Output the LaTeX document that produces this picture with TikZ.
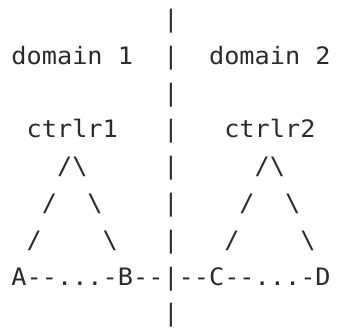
\documentclass[tikz,border=0pt]{standalone}
\usepackage{fontspec}
\newfontfamily\artfont[FakeStretch=1.052]{DejaVu Sans Mono}
\definecolor{ink}{HTML}{2B2B2B}
\tikzset{
  art/.style={anchor=base west,inner sep=0pt,outer sep=0pt,text=ink,
    font=\artfont\fontsize{24pt}{24pt}\selectfont}
}
\begin{document}
\begin{tikzpicture}
    \useasboundingbox (0,0) rectangle (341pt,-331pt);
    \begin{scope}[shift={(11.5pt,9.3pt)},x=15.2pt,y=-36.8pt]
        % divider
        \node[art] (bar1) at (10,1) {|};
        \node[art] (bar2) at (10,2) {|};
        \node[art] (bar3) at (10,3) {|};
        \node[art] (bar4) at (10,4) {|};
        \node[art] (bar5) at (10,5) {|};
        \node[art] (bar6) at (10,6) {|};
        \node[art] (bar7) at (10,7) {|};
        \node[art] (bar9) at (10,9) {|};
        % domains
        \node[art] (dom1) at (0,2) {domain 1};
        \node[art] (dom2) at (13,2) {domain 2};
        \node[art] (ctrl1) at (1,4) {ctrlr1};
        \node[art] (ctrl2) at (14,4) {ctrlr2};
        % left tree
        \node[art] (topL) at (3,5) {/\textbackslash};
        \node[art] (midLa) at (2,6) {/};
        \node[art] (midLb) at (5,6) {\textbackslash};
        \node[art] (lowLa) at (1,7) {/};
        \node[art] (lowLb) at (6,7) {\textbackslash};
        % right tree
        \node[art] (topR) at (16,5) {/\textbackslash};
        \node[art] (midRa) at (15,6) {/};
        \node[art] (midRb) at (18,6) {\textbackslash};
        \node[art] (lowRa) at (14,7) {/};
        \node[art] (lowRb) at (19,7) {\textbackslash};
        % chain
        \node[art] (chain) at (0,8) {A-{}-...-B-{}-|-{}-C-{}-...-D};
    \end{scope}
\end{tikzpicture}
\end{document}
